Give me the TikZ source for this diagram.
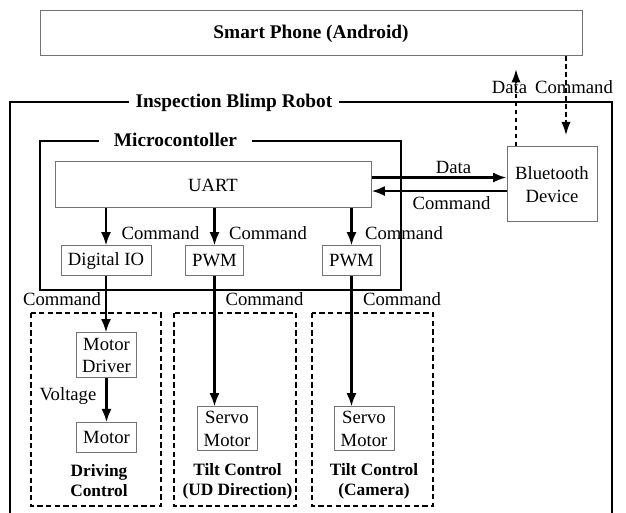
\documentclass[tikz,border=0pt]{standalone}
\usepackage{fontspec}
\setmainfont{Liberation Serif}
\usetikzlibrary{arrows.meta}
\begin{document}
\begin{tikzpicture}[x=0.75pt,y=-0.75pt,
  lbl/.style={font=\fontsize{14}{17}\selectfont, inner sep=0pt},
  box/.style={draw=black!55, line width=0.75pt, font=\fontsize{14}{17}\selectfont, align=center, inner sep=0pt},
  frame/.style={line width=1.8pt},
  grp/.style={draw, line width=1.7pt, dash pattern=on 4pt off 2.5pt},
  arr/.style={line width=1.8pt, -{Latex[length=10pt,width=7.5pt]}},
  darr/.style={line width=1.3pt, dash pattern=on 3.5pt off 2.5pt, -{Latex[length=10pt,width=7pt]}},
  ttl/.style={font=\fontsize{14.5}{17}\selectfont\bfseries, fill=white, inner ysep=1pt},
  grplabel/.style={font=\fontsize{13}{15}\selectfont\bfseries, align=center, inner sep=0pt}]
\useasboundingbox (0,0) rectangle (626,513);
\clip (0,0) rectangle (626,513);

% phone
\node[box, minimum width=406.5pt, minimum height=33.75pt,
      font=\fontsize{14.5}{17}\selectfont\bfseries] (phone) at (311,33.5) {Smart Phone (Android)};

% robot frame
\draw[frame] (10,102) rectangle (612,560);
\node[ttl, inner xsep=5.25pt] (robot) at (234,102.5) {Inspection Blimp Robot};

% microcontroller frame
\draw[frame] (40,141) rectangle (401,290);
\node[ttl, inner xsep=11pt] (mcu) at (175.5,140) {Microcontoller};

% blocks
\node[box, minimum width=237pt, minimum height=34.5pt] (uart) at (213,185) {UART};
\node[box, minimum width=67.5pt, minimum height=56.25pt] (bt) at (552,184.5) {Bluetooth\\Device};
\node[box, minimum width=67.5pt, minimum height=22.5pt] (dio) at (106,261) {Digital IO};
\node[box, minimum width=43.5pt, minimum height=22.5pt] (pwma) at (214.5,261) {PWM};
\node[box, minimum width=43pt, minimum height=22.5pt] (pwmb) at (351.5,261) {PWM};
\node[box, minimum width=45pt, minimum height=33.75pt] (drv) at (106.5,355.5) {Motor\\Driver};
\node[box, minimum width=45pt, minimum height=22pt] (mot) at (106.5,437.5) {Motor};
\node[box, minimum width=45pt, minimum height=33pt] (srva) at (227,429) {Servo\\Motor};
\node[box, minimum width=45pt, minimum height=33pt] (srvb) at (364,429) {Servo\\Motor};

% dashed groups
\draw[grp] (31,313) rectangle (161,506);
\draw[grp] (174,313) rectangle (296,506);
\draw[grp] (312,313) rectangle (433,506);
\node[grplabel] (gdrive) at (99,481) {Driving\\Control};
\node[grplabel] (gtilt) at (237.5,481) {Tilt Control\\(UD Direction)};
\node[grplabel] (gcam) at (374,481) {Tilt Control\\(Camera)};

% wireless link
\coordinate (dx) at (516,0);
\coordinate (cx) at (566,0);
\draw[darr, shorten >=9.5pt] (bt.north -| dx) -- (phone.south -| dx);
\draw[darr, shorten >=8.5pt] (phone.south -| cx) -- (bt.north -| cx);
\node[lbl, anchor=base] (ldata) at (509.5,94) {Data};
\node[lbl, anchor=base] (lcmd) at (574,94) {Command};

% UART <-> Bluetooth
\draw[arr] ([yshift=5.6pt]uart.east) -- ([yshift=5.6pt]uart.east -| bt.west);
\draw[arr] ([yshift=-4.9pt]bt.west) -- ([yshift=-4.9pt]bt.west -| uart.east);
\node[lbl, anchor=base] (ldata2) at (453.5,173.3) {Data};
\node[lbl, anchor=base] (lcmd2) at (451.5,210) {Command};

% UART -> peripherals
\draw[arr] (uart.south -| dio) -- (dio.north);
\draw[arr] (uart.south -| pwma) -- (pwma.north);
\draw[arr] (uart.south -| pwmb) -- (pwmb.north);
\node[lbl, anchor=base] at (160.5,239.3) {Command};
\node[lbl, anchor=base] at (268,239.3) {Command};
\node[lbl, anchor=base] at (404,239.3) {Command};

% peripherals -> actuators
\draw[arr] (dio.south) -- (dio.south |- drv.north);
\draw[arr] (pwma.south) -- (pwma.south |- srva.north);
\draw[arr] (pwmb.south) -- (pwmb.south |- srvb.north);
\draw[arr] (drv.south) -- (mot.north);
\node[lbl, anchor=base] at (62,306) {Command};
\node[lbl, anchor=base] at (264.5,306) {Command};
\node[lbl, anchor=base] at (402,306) {Command};
\node[lbl, anchor=base] at (68,400.5) {Voltage};
\end{tikzpicture}
\end{document}
